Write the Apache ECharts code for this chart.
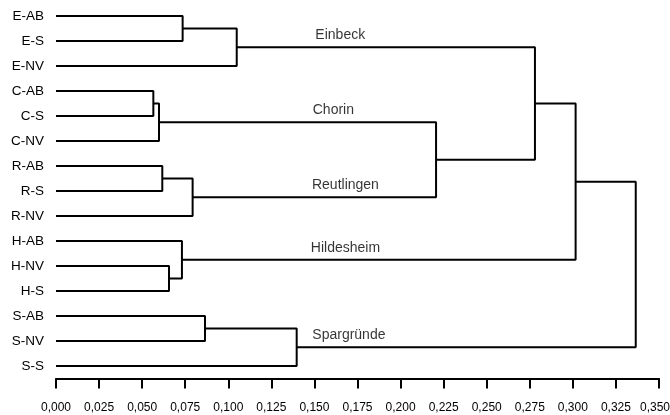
<!DOCTYPE html>
<html>
<head>
<meta charset="utf-8">
<script src="https://cdn.jsdelivr.net/npm/echarts@6/dist/echarts.min.js"></script>
<style>
html, body { margin: 0; padding: 0; background: #fff; }
#chart { width: 670px; height: 415px; }
</style>
</head>
<body>
<div id="chart"></div>
<script>
// leaves, top to bottom
var leaves = ['E-AB', 'E-S', 'E-NV', 'C-AB', 'C-S', 'C-NV', 'R-AB', 'R-S', 'R-NV',
	'H-AB', 'H-NV', 'H-S', 'S-AB', 'S-NV', 'S-S'];

// merges: [childA, childB, height]; new node ids start at leaves.length (15)
var mergeA = [0, 15, 3, 17, 6, 19, 10, 9, 12, 23, 18, 16, 26, 27];
var mergeB = [1, 2, 4, 5, 7, 8, 11, 21, 13, 14, 20, 25, 22, 24];
var mergeHeight = [0.0735, 0.1049, 0.0565, 0.0598, 0.0617, 0.0793, 0.0656, 0.0731,
	0.0865, 0.1397, 0.2206, 0.2780, 0.3016, 0.3365];

// cluster names, the node each belongs to, and where the text sits on the x axis
var clusterNames = ['Einbeck', 'Chorin', 'Reutlingen', 'Hildesheim', 'Spargründe'];
var clusterNodes = [16, 18, 20, 22, 24];
var clusterLabelX = [0.165, 0.161, 0.168, 0.168, 0.170];

var xTicks = { min: 0, max: 0.35, step: 0.025 };

var fontFamily = '"Liberation Sans", Arial, sans-serif';

// node positions (height, row)
var nodeH = [], nodeY = [];
leaves.forEach(function (l, i) { nodeH.push(0); nodeY.push(i); });
var series = [];
for (var i = 0; i < mergeHeight.length; i++) {
	var a = mergeA[i], b = mergeB[i], h = mergeHeight[i];
	nodeH.push(h);
	nodeY.push((nodeY[a] + nodeY[b]) / 2);
	series.push({
		type: 'line',
		yAxisIndex: 1,
		symbol: 'none',
		silent: true,
		animation: false,
		lineStyle: { color: '#000', width: 2 },
		data: [[nodeH[a], nodeY[a]], [h, nodeY[a]], [h, nodeY[b]], [nodeH[b], nodeY[b]]]
	});
}

series.push({
	type: 'scatter',
	yAxisIndex: 1,
	symbolSize: 0,
	silent: true,
	animation: false,
	label: {
		show: true,
		position: 'inside',
		offset: [0, -12],
		formatter: function (p) { return p.name; },
		color: '#000',
		fontSize: 14,
		fontFamily: fontFamily
	},
	data: clusterNames.map(function (n, i) {
		return { name: n, value: [clusterLabelX[i], nodeY[clusterNodes[i]]] };
	})
});

var option = {
	backgroundColor: '#fff',
	animation: false,
	grid: { left: 56, right: 11, top: 3.5, height: 375, outerBoundsMode: 'none' },
	xAxis: {
		type: 'value',
		position: 'bottom',
		min: xTicks.min,
		max: xTicks.max,
		interval: xTicks.step,
		axisLine: { show: true, onZero: false, lineStyle: { color: '#000', width: 2 } },
		axisTick: { show: true, length: 10, lineStyle: { color: '#000', width: 2 } },
		splitLine: { show: false },
		axisLabel: {
			color: '#000',
			fontSize: 12,
			fontFamily: fontFamily,
			margin: 23,
			formatter: function (v) {
				var s = v.toFixed(3).replace('.', ',');
				// last label is nudged left so it stays inside the picture
				return Math.abs(v - xTicks.max) < 1e-9 ? '{last|' + s + '}' : s;
			},
			rich: {
				last: { fontSize: 12, fontFamily: fontFamily, color: '#000', padding: [0, 8, 0, 0] }
			}
		}
	},
	yAxis: [{
		type: 'category',
		inverse: true,
		data: leaves,
		axisLine: { show: false },
		axisTick: { show: false },
		splitLine: { show: false },
		axisLabel: { color: '#000', fontSize: 13.5, fontFamily: fontFamily, margin: 12 }
	}, {
		type: 'value',
		inverse: true,
		min: -0.5,
		max: leaves.length - 0.5,
		show: false,
		splitLine: { show: false }
	}],
	series: series
};

var myChart = echarts.init(document.getElementById('chart'));
myChart.setOption(option);
</script>
</body>
</html>
